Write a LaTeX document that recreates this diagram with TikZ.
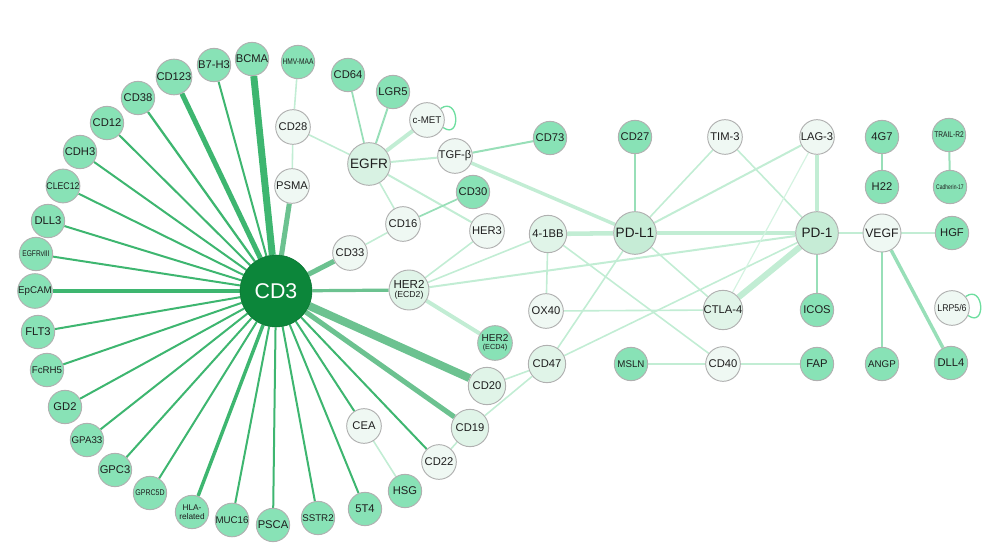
\documentclass[tikz,border=0pt]{standalone}
\usepackage{fontspec}
\setmainfont{Liberation Sans}
\usetikzlibrary{backgrounds}
\definecolor{hubgreen}{RGB}{12,134,58}
\definecolor{ringgreen}{RGB}{136,226,182}
\definecolor{keygreen}{RGB}{198,236,214}
\definecolor{midgreen}{RGB}{224,244,232}
\definecolor{palegreen}{RGB}{239,248,243}
\definecolor{rimgray}{RGB}{176,176,176}
\definecolor{spokegreen}{RGB}{62,182,112}
\definecolor{softspoke}{RGB}{108,194,144}
\definecolor{linkgreen}{RGB}{194,237,212}
\definecolor{deeplink}{RGB}{152,223,184}
\definecolor{loopgreen}{RGB}{110,222,160}
\definecolor{inkgray}{RGB}{30,30,30}
\newcommand\thinlabel[2]{\scalebox{#1}[1]{#2}}
\tikzset{
  mol/.style={circle, draw=rimgray, line width=0.7pt, inner sep=0pt, minimum size=25pt,
              align=center, text=inkgray, font=\fontsize{8.4}{8.8}\selectfont},
  tgt/.style={mol, fill=ringgreen},
  pale/.style={mol, fill=palegreen, minimum size=26pt},
  mid/.style={mol, fill=midgreen, minimum size=28pt},
  key/.style={mol, fill=keygreen, minimum size=32pt, font=\fontsize{10.2}{11}\selectfont},
  hub/.style={circle, fill=hubgreen, draw=hubgreen!85!black, minimum size=54pt,
              text=white, font=\fontsize{16}{16}\selectfont},
  spoke/.style={spokegreen, line width=1.5pt},
  lnk/.style={linkgreen, line width=1.2pt},
  dlnk/.style={deeplink, line width=1.3pt},
  selfloop/.style={loopgreen, line width=1pt},
  tinytxt/.style={font=\fontsize{6.2}{6.7}\selectfont},
  smalltxt/.style={font=\fontsize{7.3}{7.8}\selectfont},
}

\begin{document}
\begin{tikzpicture}[x=0.75pt, y=-0.75pt]
\useasboundingbox (0,0) rectangle (1008,556);

\node[hub] (cdthree) at (276,291) {CD3};

\node[tgt] (bcma) at (252,59) {BCMA};
\node[tgt, tinytxt] (hmvmaa) at (298,62) {\thinlabel{0.8}{HMV-MAA}};
\node[tgt] (bsevenh) at (214,65) {B7-H3};
\node[tgt] (cdonetwothree) at (174,77) {CD123};
\node[tgt] (cdthreeeight) at (138,98) {CD38};
\node[tgt] (cdtwelve) at (107,123) {CD12};
\node[tgt] (cdhthree) at (80,152) {CDH3};
\node[tgt, smalltxt] (clec) at (63,186) {\thinlabel{0.9}{CLEC12}};
\node[tgt] (dllthree) at (48,221) {DLL3};
\node[tgt, tinytxt] (egfrv) at (36,254) {\thinlabel{0.8}{EGFRvIII}};
\node[tgt, smalltxt] (epcam) at (35,291) {EpCAM};
\node[tgt] (flt) at (38,332) {FLT3};
\node[tgt, smalltxt] (fcrh) at (47,370) {FcRH5};
\node[tgt] (gdtwo) at (65,407) {GD2};
\node[tgt, smalltxt] (gpa) at (87,440) {GPA33};
\node[tgt] (gpc) at (115,470) {GPC3};
\node[tgt, tinytxt] (gprc) at (150,493) {\thinlabel{0.85}{GPRC5D}};
\node[tgt, tinytxt] (hla) at (192,512) {HLA-\\related};
\node[tgt, smalltxt] (muc) at (232,520) {MUC16};
\node[tgt] (psca) at (273,525) {PSCA};
\node[tgt, smalltxt] (sstr) at (318,518) {SSTR2};
\node[tgt] (fivet) at (365,509) {5T4};
\node[tgt] (hsg) at (405,491) {HSG};

\node[pale] (cea) at (364,426) {CEA};
\node[pale] (cdtwotwo) at (439,462) {CD22};
\node[mid] (cdnineteen) at (470,428) {CD19};
\node[mid] (cdtwenty) at (487,386) {CD20};
\node[tgt, minimum size=26pt, font=\fontsize{7.5}{7}\selectfont] (hertwob) at (495,343)
  {HER2\\[-1pt]{\fontsize{5.5}{6}\selectfont(ECD4)}};
\node[mid, minimum size=30pt, font=\fontsize{8.7}{8}\selectfont] (hertwoa) at (409,290)
  {HER2\\[-1pt]{\fontsize{6.5}{7}\selectfont(ECD2)}};
\node[pale] (cdthreethree) at (350,253) {CD33};
\node[pale] (psma) at (292,186) {PSMA};
\node[pale] (cdtwoeight) at (293,127) {CD28};

\node[tgt] (cdsixfour) at (348,75) {CD64};
\node[tgt] (lgr) at (393,92) {LGR5};
\node[pale, smalltxt] (cmet) at (427,120) {c-MET};
\node[key, fill=midgreen!70!keygreen] (egfr) at (369,164) {EGFR};
\node[pale] (tgfb) at (455,156) {TGF-β};
\node[tgt] (cdseventhree) at (550,138) {CD73};
\node[tgt] (cdthirty) at (473,192) {CD30};
\node[pale] (cdsixteen) at (403,224) {CD16};
\node[pale] (herthree) at (487,231) {HER3};
\node[mid] (fourbb) at (548,234) {4-1BB};
\node[pale] (oxforty) at (546,311) {OX40};
\node[mid] (cdfourseven) at (547,364) {CD47};

\node[tgt] (cdtwoseven) at (635,137) {CD27};
\node[pale] (timthree) at (725,137) {TIM-3};
\node[pale] (lagthree) at (817,137) {LAG-3};
\node[tgt] (fourgseven) at (882,137) {4G7};
\node[tgt, tinytxt] (trail) at (949,135) {\thinlabel{0.8}{TRAIL-R2}};
\node[tgt] (htwotwo) at (882,187) {H22};
\node[tgt, font=\fontsize{5}{5}\selectfont] (cadherin) at (950,187) {\thinlabel{0.75}{Cadherin-17}};

\node[key] (pdlone) at (635,233) {PD-L1};
\node[key] (pdone) at (817,233) {PD-1};
\node[pale, minimum size=28.5pt, font=\fontsize{9.2}{9}\selectfont] (vegf) at (882,233) {VEGF};
\node[tgt] (hgf) at (952,233) {HGF};
\node[mid] (ctla) at (723,310) {CTLA-4};
\node[tgt] (icos) at (817,310) {ICOS};
\node[pale, smalltxt] (lrp) at (952,308) {\thinlabel{0.9}{LRP5/6}};
\node[tgt, smalltxt] (msln) at (631,364) {MSLN};
\node[pale] (cdforty) at (723,364) {CD40};
\node[tgt] (fap) at (817,364) {FAP};
\node[tgt, smalltxt] (angp) at (882,364) {ANGP};
\node[tgt] (dllfour) at (951,363) {DLL4};

\begin{scope}[on background layer]
\foreach \t/\w in {bcma/5.2pt, bsevenh/1.5pt, cdonetwothree/3.8pt, cdthreeeight/1.7pt,
    cdtwelve/1.5pt, cdhthree/1.5pt, clec/1.5pt, dllthree/1.5pt, egfrv/1.5pt, epcam/3pt,
    flt/1.5pt, fcrh/1.5pt, gdtwo/1.5pt, gpa/1.5pt, gpc/1.5pt, gprc/1.5pt, hla/2.6pt,
    muc/1.5pt, psca/1.5pt, sstr/1.5pt, fivet/1.5pt, cea/1.5pt, cdtwotwo/1.5pt}
  \draw[spoke, line width=\w] (cdthree) -- (\t);
\foreach \t/\w in {psma/3.8pt, cdthreethree/3.8pt, hertwoa/2.4pt, cdtwenty/6pt, cdnineteen/3.8pt}
  \draw[spoke, softspoke, line width=\w] (cdthree) -- (\t);

\foreach \a/\b/\w in {hmvmaa/cdtwoeight/1.2pt, cdtwoeight/psma/1.2pt, cdtwoeight/egfr/1.2pt,
    egfr/cmet/3pt, egfr/tgfb/1.5pt, egfr/cdsixteen/1.2pt, egfr/herthree/1.5pt,
    cdsixteen/cdthreethree/1.2pt, tgfb/pdlone/2.6pt, hertwoa/herthree/1.2pt,
    hertwoa/fourbb/1.2pt, hertwoa/pdone/1.5pt, hertwoa/hertwob/3pt, fourbb/pdlone/3.4pt,
    fourbb/oxforty/1.2pt, fourbb/cdforty/1.2pt, oxforty/ctla/1.2pt, cdfourseven/pdlone/1.2pt,
    cdfourseven/pdone/1.2pt, cdfourseven/cdtwenty/1.2pt, cdfourseven/cdnineteen/1.2pt,
    cdtwotwo/cdnineteen/1.2pt, cea/hsg/1.2pt, pdlone/timthree/1.2pt, pdlone/lagthree/1.5pt,
    pdlone/pdone/3.6pt, pdlone/ctla/1.2pt, timthree/pdone/1.2pt, lagthree/pdone/2.5pt,
    ctla/pdone/4.6pt, pdone/vegf/1.2pt, msln/cdforty/1.5pt, cdforty/fap/1.5pt,
    vegf/hgf/1.5pt}
  \draw[lnk, line width=\w] (\a) -- (\b);
\draw[lnk, line width=0.9pt, linkgreen!70!white] (lagthree) -- (ctla);

\foreach \a/\b/\w in {egfr/cdsixfour/1.3pt, egfr/lgr/1.5pt, cdsixteen/cdthirty/1.3pt,
    tgfb/cdseventhree/1.5pt, pdlone/cdtwoseven/1.5pt, pdone/icos/1.5pt, vegf/angp/1.5pt,
    vegf/dllfour/2.6pt, fourgseven/htwotwo/1.5pt, trail/cadherin/1.5pt}
  \draw[dlnk, line width=\w] (\a) -- (\b);

\draw[selfloop] (cmet.40) to[out=35, in=-35, looseness=3] (cmet.-25);
\draw[selfloop] (lrp.40) to[out=35, in=-35, looseness=3] (lrp.-25);
\end{scope}
\end{tikzpicture}
\end{document}
